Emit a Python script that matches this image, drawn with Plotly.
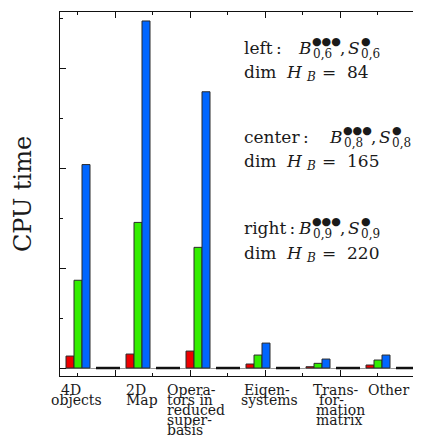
import plotly.graph_objects as go

# ---------------- data ----------------
categories = ["4D objects", "2D Map", "Operators in reduced superbasis",
              "Eigensystems", "Transformation matrix", "Other"]
label_lines = [["4D", "objects"], ["2D", "Map"],
               ["Opera-", "tors in", "reduced", "super-", "basis"],
               ["Eigen-", "systems"], ["Trans-", "for-", "mation", "matrix"],
               ["Other"]]
cpu_left = [0.12, 0.14, 0.17, 0.04, 0.013, 0.03]     # red
cpu_center = [0.88, 1.46, 1.21, 0.13, 0.047, 0.08]   # green
cpu_right = [2.04, 3.48, 2.77, 0.25, 0.09, 0.13]     # blue
cpu_empty = [0, 0, 0, 0, 0, 0]                       # empty slot (drawn as line)

block_names = ["left", "center", "right"]
block_subs = ["0,6", "0,8", "0,9"]
block_dims = [84, 165, 220]

# ---------------- layout constants ----------------
# The page body has an 8px margin, so the figure is laid out 8px smaller and
# every target pixel position is shifted by OFF.
OFF = 8
W, H = 421 - OFF, 438 - OFF
RPL, RPR, RPT, RPB = 60, 421, 12, 376          # plot box in page pixels
PL, PR, PT, PB = RPL - OFF, RPR - OFF, RPT - OFF, RPB - OFF
SERIF = "DejaVu Serif"
TXT = "#1a1a1a"
RED, GREEN, BLUE = "#ee0000", "#33ee00", "#0066ff"

pos = list(range(len(categories)))
X0, X1 = -0.3, (RPR - 78) / 60.0
Y0, Y1 = -0.08, 3.57

fig = go.Figure()
bw = 8 / 60.0
for vals, col, off in [(cpu_left, RED, -0.2), (cpu_center, GREEN, -0.2 + bw),
                       (cpu_right, BLUE, -0.2 + 2 * bw)]:
    fig.add_trace(go.Bar(x=pos, y=vals, width=bw, offset=off,
                         marker=dict(color=col, line=dict(color="#2a2a2a", width=1)),
                         showlegend=False))

# empty slot as a flat black segment at the baseline
ex, ey = [], []
for p, v in zip(pos, cpu_empty):
    ex += [p + 0.3, p + 0.7, None]
    ey += [v, v, None]
fig.add_trace(go.Scatter(x=ex, y=ey, mode="lines", yaxis="y2",
                         line=dict(color="#111", width=2.5), showlegend=False,
                         hoverinfo="skip"))


def px_x(px):
    return (px - RPL) / (RPR - RPL)


def px_y(py):
    return (RPB - py) / (RPB - RPT)


ann = []


def put(text, px, base, size, family=SERIF, anchor="left"):
    bottom = base + 0.24 * size
    ann.append(dict(text=text, x=px_x(px), y=px_y(bottom), xref="paper", yref="paper",
                    xanchor=anchor, yanchor="bottom", showarrow=False, borderpad=0,
                    font=dict(family=family, size=size, color=TXT)))


MAIN, SUB, DOT = 17, 12, 11
line1 = [55, 144, 235]
line2 = [79, 168, 260]
bstart = [297, 328, 297]
for name, sub, dim, b1, b2, bx in zip(block_names, block_subs, block_dims, line1, line2, bstart):
    put(name + "\u2009:", 243, b1, MAIN)
    put("<i>B</i>", bx, b1, MAIN)
    put("\u25CF\u25CF\u25CF", bx + 14, b1 - 9, DOT, family="DejaVu Sans")
    put(sub, bx + 15, b1 + 4, SUB)
    put(",", bx + 42, b1, MAIN)
    put("<i>S</i>", bx + 50, b1, MAIN)
    put("\u25CF", bx + 63, b1 - 9, DOT, family="DejaVu Sans")
    put(sub, bx + 63, b1 + 4, SUB)
    put("dim", 243, b2, MAIN)
    put("<i>H</i>", 285, b2, MAIN)
    put("<i>B</i>", 305, b2 + 3, SUB)
    put("=", 321, b2, MAIN)
    put(str(dim), 346, b2, MAIN)

# category labels (tight line pitch as in the reference)
label_x = [[60, 50], [125, 125], [166] * 5, [243, 240], [312, 318, 315, 315], [367]]
LBL = 14
for lines, xs in zip(label_lines, label_x):
    for k, (t, x) in enumerate(zip(lines, xs)):
        put(t, x, 396 + 10 * k, LBL)

axis_common = dict(showgrid=False, ticks="inside", showticklabels=False, automargin=False,
                   tickcolor="#111", linecolor="#111", linewidth=1)

fig.update_layout(
    width=W, height=H,
    margin=dict(l=PL, r=W - PR, t=PT, b=H - PB, autoexpand=False),
    paper_bgcolor="white", plot_bgcolor="white",
    barmode="overlay",
    xaxis=dict(range=[X0, X1], showline=True, mirror="ticks", zeroline=False,
               tickmode="linear", tick0=(115 - 78) / 60.0, dtick=1.25, ticklen=6,
               minor=dict(ticks="inside", tick0=(77.5 - 78) / 60.0, dtick=0.625,
                          ticklen=3, tickcolor="#111"),
               **axis_common),
    yaxis=dict(range=[Y0, Y1], showline=True, mirror=False,
               tickmode="linear", tick0=0, dtick=1, ticklen=6,
               minor=dict(ticks="inside", tick0=0.5, dtick=1, ticklen=3, tickcolor="#111"),
               title=dict(text="CPU time", standoff=20,
                          font=dict(family=SERIF, size=24, color=TXT)),
               zeroline=True, zerolinecolor="#9a9a9a", zerolinewidth=1,
               **axis_common),
    yaxis2=dict(range=[Y0, Y1], overlaying="y", side="right", anchor="x", showline=False,
                zeroline=False,
                tickmode="linear", tick0=0, dtick=1, ticklen=6,
                minor=dict(ticks="inside", tick0=0.5, dtick=1, ticklen=3, tickcolor="#111"),
                **axis_common),
    annotations=ann,
)

fig.write_html("out.html")
